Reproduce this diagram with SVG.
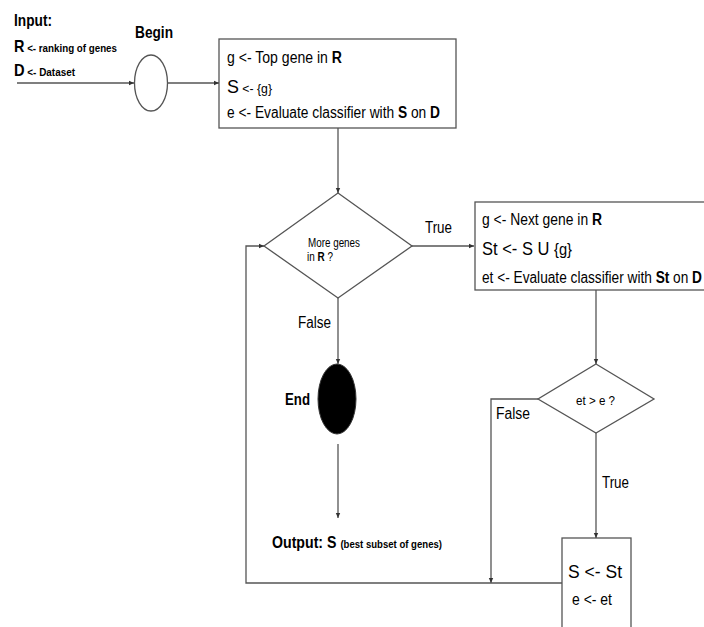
<svg xmlns="http://www.w3.org/2000/svg" width="704" height="627" viewBox="0 0 704 627">
<style>
text{font-family:"Liberation Sans",Arial,sans-serif;fill:#000}
.t{font-size:16px}
.b{font-weight:bold}
.box{fill:#fff;stroke:#555;stroke-width:1.3}
.ln{fill:none;stroke:#555;stroke-width:1.3}
</style>
<defs>
<marker id="ah" markerWidth="6" markerHeight="6" refX="5" refY="3" orient="auto" markerUnits="userSpaceOnUse">
<path d="M0,0.8 L5,3 L0,5.2 Z" fill="#333"/>
</marker>
</defs>
<rect width="704" height="627" fill="#fff"/>
<g id="input">
<text x="14" y="26" class="b" font-size="17" textLength="38" lengthAdjust="spacingAndGlyphs">Input:</text>
<text x="14" y="52" class="b" font-size="17" textLength="103" lengthAdjust="spacingAndGlyphs">R<tspan font-size="11.5"> &lt;- ranking of genes</tspan></text>
<text x="14" y="76" class="b" font-size="17" textLength="61" lengthAdjust="spacingAndGlyphs">D<tspan font-size="11.5"> &lt;- Dataset</tspan></text>
</g>
<g id="begin">
<ellipse cx="151" cy="83" rx="16.5" ry="28" class="box"/>
<text x="135" y="38" class="b" font-size="17" textLength="38" lengthAdjust="spacingAndGlyphs">Begin</text>
</g>
<g id="init">
<rect x="219" y="39" width="237" height="89" class="box"/>
<text x="227" y="63" class="t" textLength="115" lengthAdjust="spacingAndGlyphs">g &lt;- Top gene in <tspan class="b">R</tspan></text>
<text x="227" y="93" class="t" textLength="45" lengthAdjust="spacingAndGlyphs"><tspan font-size="19">S</tspan><tspan font-size="13"> &lt;- {g}</tspan></text>
<text x="227" y="118" class="t" textLength="213" lengthAdjust="spacingAndGlyphs">e &lt;- Evaluate classifier with <tspan class="b">S</tspan> on <tspan class="b">D</tspan></text>
</g>
<g id="more">
<polygon points="338,193 412,246 338,298 264,246" class="box"/>
<text x="308" y="247" font-size="12" textLength="52" lengthAdjust="spacingAndGlyphs">More genes</text>
<text x="307" y="261" font-size="12" textLength="26" lengthAdjust="spacingAndGlyphs">in <tspan class="b">R</tspan> ?</text>
</g>
<g id="next">
<rect x="475" y="202" width="232" height="88" class="box"/>
<text x="482" y="225" class="t" textLength="120" lengthAdjust="spacingAndGlyphs">g &lt;- Next gene in <tspan class="b">R</tspan></text>
<text x="482" y="255" class="t" textLength="90" lengthAdjust="spacingAndGlyphs"><tspan font-size="18">St &lt;-  S U </tspan>{g}</text>
<text x="482" y="283" class="t" textLength="220" lengthAdjust="spacingAndGlyphs">et &lt;- Evaluate classifier with <tspan class="b">St</tspan> on <tspan class="b">D</tspan></text>
</g>
<g id="compare">
<polygon points="596,364 654,399 596,433 538,399" class="box"/>
<text x="576" y="405" font-size="13" textLength="39" lengthAdjust="spacingAndGlyphs">et &gt; e ?</text>
</g>
<g id="end">
<ellipse cx="337" cy="399" rx="19" ry="35" fill="#000" stroke="#333"/>
<text x="285" y="405" class="b" font-size="17" textLength="25" lengthAdjust="spacingAndGlyphs">End</text>
</g>
<g id="update">
<rect x="562" y="538" width="69" height="92" class="box"/>
<text x="568" y="578" font-size="19" textLength="54" lengthAdjust="spacingAndGlyphs">S &lt;-  St</text>
<text x="572" y="605" font-size="16" textLength="40" lengthAdjust="spacingAndGlyphs">e &lt;- et</text>
</g>
<g id="output">
<text x="272" y="548" class="b" font-size="17" textLength="170" lengthAdjust="spacingAndGlyphs">Output: S <tspan font-size="11.5">(best subset of genes)</tspan></text>
</g>
<g id="connectors">
<line x1="17" y1="83" x2="134" y2="83" class="ln" marker-end="url(#ah)"/>
<line x1="168" y1="83" x2="219" y2="83" class="ln" marker-end="url(#ah)"/>
<line x1="338" y1="128" x2="338" y2="193" class="ln" marker-end="url(#ah)"/>
<line x1="412" y1="246" x2="474" y2="246" class="ln" marker-end="url(#ah)"/>
<text x="425" y="233" class="t" font-size="17" textLength="27" lengthAdjust="spacingAndGlyphs">True</text>
<line x1="338" y1="298" x2="338" y2="364" class="ln" marker-end="url(#ah)"/>
<text x="298" y="328" class="t" font-size="17" textLength="33" lengthAdjust="spacingAndGlyphs">False</text>
<line x1="338" y1="444" x2="338" y2="518" class="ln" marker-end="url(#ah)"/>
<line x1="596" y1="290" x2="596" y2="364" class="ln" marker-end="url(#ah)"/>
<line x1="596" y1="433" x2="596" y2="538" class="ln" marker-end="url(#ah)"/>
<text x="602" y="488" class="t" font-size="17" textLength="27" lengthAdjust="spacingAndGlyphs">True</text>
<polyline points="538,399 491,399 491,583" class="ln" marker-end="url(#ah)"/>
<text x="496" y="419" class="t" font-size="17" textLength="34" lengthAdjust="spacingAndGlyphs">False</text>
<polyline points="562,583 246,583 246,246 264,246" class="ln" marker-end="url(#ah)"/>
</g>
</svg>
